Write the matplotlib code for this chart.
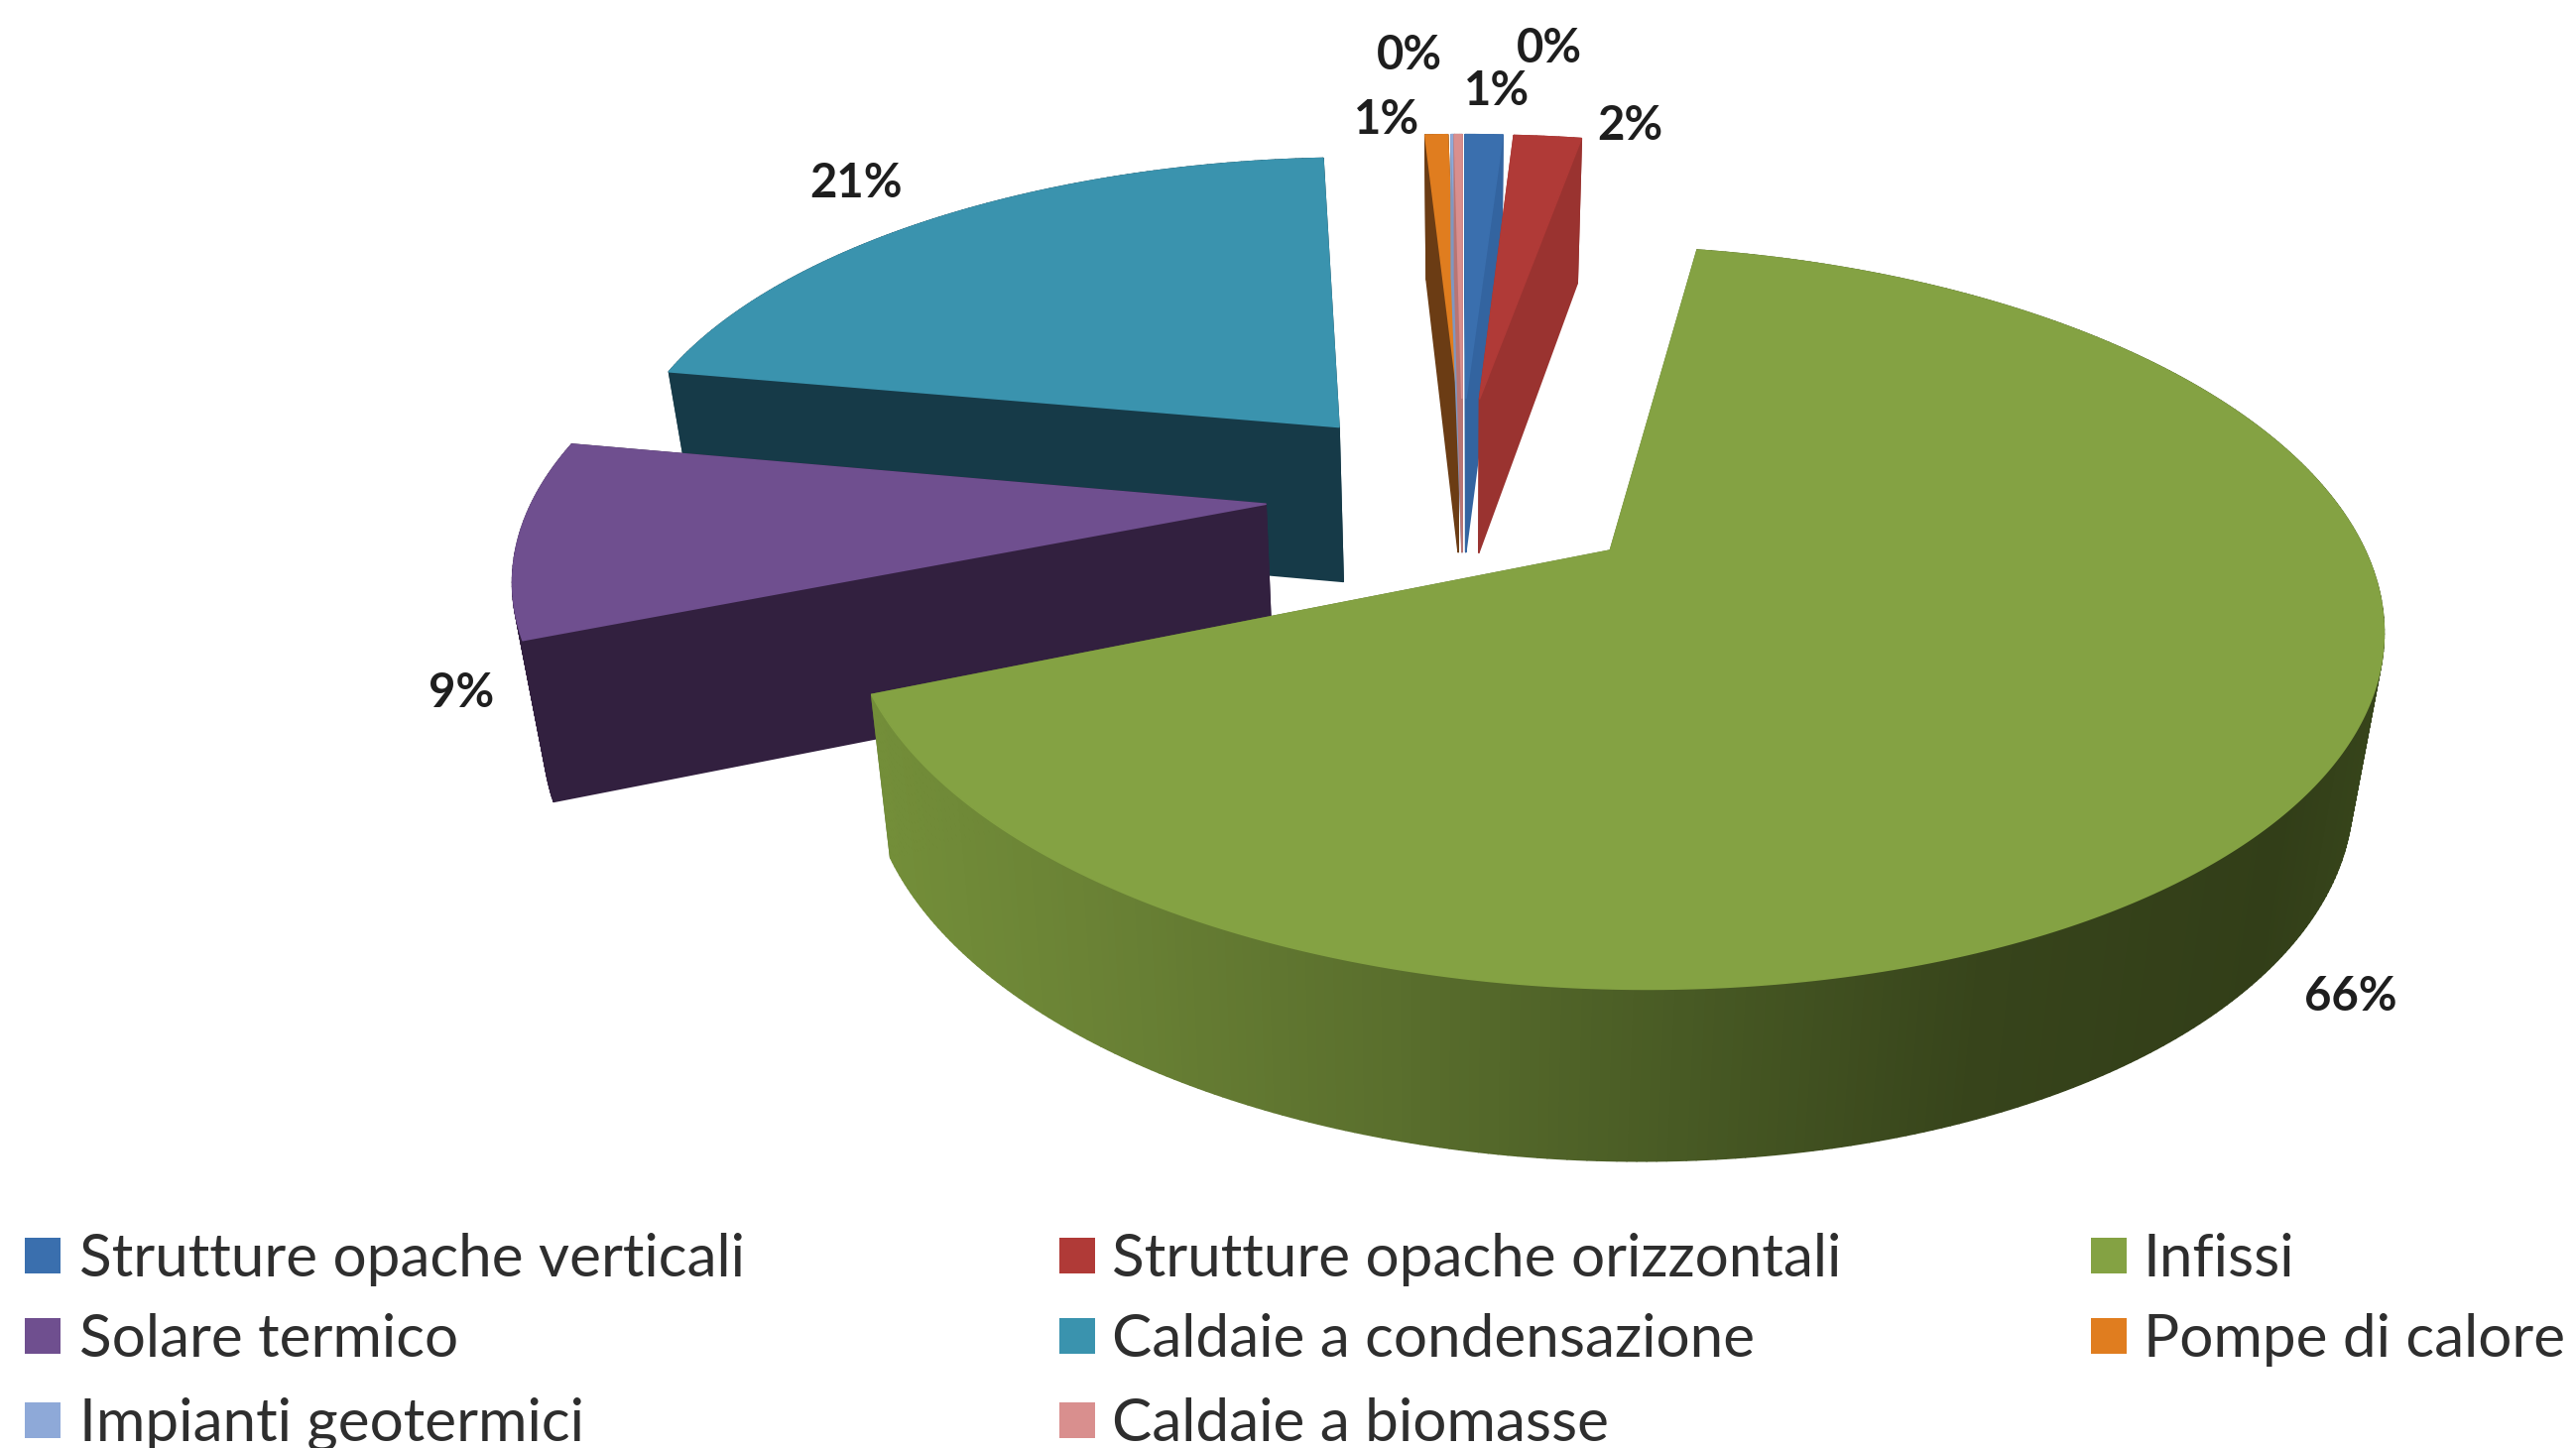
import numpy as np
import matplotlib
matplotlib.use("Agg")
import matplotlib.pyplot as plt
from matplotlib.colors import to_rgb

W, H = 2597, 1460
categories = ["Strutture opache verticali", "Strutture opache orizzontali", "Infissi",
              "Solare termico", "Caldaie a condensazione", "Pompe di calore",
              "Impianti geotermici", "Caldaie a biomasse"]
values = [1.0, 1.8, 66.1, 9.0, 21.2, 0.6, 0.1, 0.2]

top_colors = ["#3a6fae", "#b03a37", "#84a243", "#6f4f8f", "#3a93ae", "#e07d1f", "#8ea9d8", "#d98f8e"]
side_colors = ["#3364a0", "#9a3330", "#5a6f2d", "#32203f", "#163a48", "#6b3c14", "#7f97c0", "#b87574"]
explode = [0.27, 0.27, 0.285, 0.27, 0.27, 0.27, 0.27, 0.27]
nudge_x = [-3, -6, -20, 0, 2, 2, 2, 0]
nudge_y = [0, 0, 3, 10, 8, 0, 0, 0]
draw_order = [4, 5, 6, 7, 0, 1, 3, 2]

label_pos = [(1509, 92), (1643, 127), (2370, 1005), (465, 699), (863, 185),
             (1398, 121), (1421, 56), (1562, 49)]

# projection parameters of the tilted pie
CX, CY, R, A, K = 1475, 489, 737, 340, 0.175
DEPTH, BASE_SHRINK = 158, 0.967
green_x = [880, 1100, 1400, 1700, 2000, 2300, 2410]
green_rgb = np.array([to_rgb(c) for c in ["#738e39", "#6a8235", "#5a6f2d", "#485a24", "#37441b", "#323e18", "#37451b"]])


def project(X, Y, base=False):
    X, Y = np.asarray(X, float), np.asarray(Y, float)
    s = 1 / (1 + K * Y)
    x = CX + R * X * s
    y = CY - A * Y * s
    if base:
        x = CX + (x - CX) * BASE_SHRINK
        y = y + DEPTH * s ** 0.4
    return x, y


fig = plt.figure(figsize=(W / 100, H / 100), dpi=100, facecolor="white")
ax = fig.add_axes([0, 0, 1, 1])
ax.set_xlim(0, W)
ax.set_ylim(H, 0)
ax.axis("off")


def poly(xs, ys, color):
    ax.fill(xs, ys, color=color, lw=1.2, joinstyle="round")


edges = np.concatenate([[0], np.cumsum(values)]) / sum(values) * 2 * np.pi
for i in draw_order:
    a0, a1 = edges[i], edges[i + 1]
    mid = (a0 + a1) / 2
    ox, oy = explode[i] * np.sin(mid), explode[i] * np.cos(mid)
    th = np.linspace(a0, a1, max(4, int((a1 - a0) * 90)))
    X = ox + np.sin(th)
    Y = oy + np.cos(th)
    dx, dy = nudge_x[i], nudge_y[i]
    xt, yt = project(X, Y)
    xb, yb = project(X, Y, base=True)
    axt, ayt = project(ox, oy)
    axb, ayb = project(ox, oy, base=True)
    xt, xb, axt, axb = xt + dx, xb + dx, axt + dx, axb + dx
    yt, yb, ayt, ayb = yt + dy, yb + dy, ayt + dy, ayb + dy
    # radial cut faces
    poly([axt, xt[0], xb[0], axb], [ayt, yt[0], yb[0], ayb], side_colors[i])
    poly([axt, xt[-1], xb[-1], axb], [ayt, yt[-1], yb[-1], ayb], side_colors[i])
    # outer wall
    for j in range(len(th) - 1):
        if i == 2:
            xm = (xt[j] + xt[j + 1]) / 2
            col = [np.interp(xm, green_x, green_rgb[:, c]) for c in range(3)]
        else:
            col = side_colors[i]
        poly([xt[j], xt[j + 1], xb[j + 1], xb[j]], [yt[j], yt[j + 1], yb[j + 1], yb[j]], col)
    # top face
    poly(np.r_[axt, xt], np.r_[ayt, yt], top_colors[i])

for v, (lx, ly) in zip(values, label_pos):
    ax.text(lx, ly, f"{round(v)}%", ha="center", va="center", family="Lato",
            weight="bold", fontsize=34, color="#1e1e1e")

# legend
swatch_x = [25, 1068, 2108]
text_x = [80, 1121, 2161]
row_y = [1270, 1351, 1436]
for k, name in enumerate(categories):
    r, c = k // 3, k % 3
    ax.add_patch(plt.Rectangle((swatch_x[c], row_y[r] - 22), 36, 36, color=top_colors[k], lw=0))
    ax.text(text_x[c], row_y[r], name, ha="left", va="center", family="Lato",
            fontsize=43.4, color="#2e2e2e")

fig.savefig("out.png", dpi=100, facecolor="white")
